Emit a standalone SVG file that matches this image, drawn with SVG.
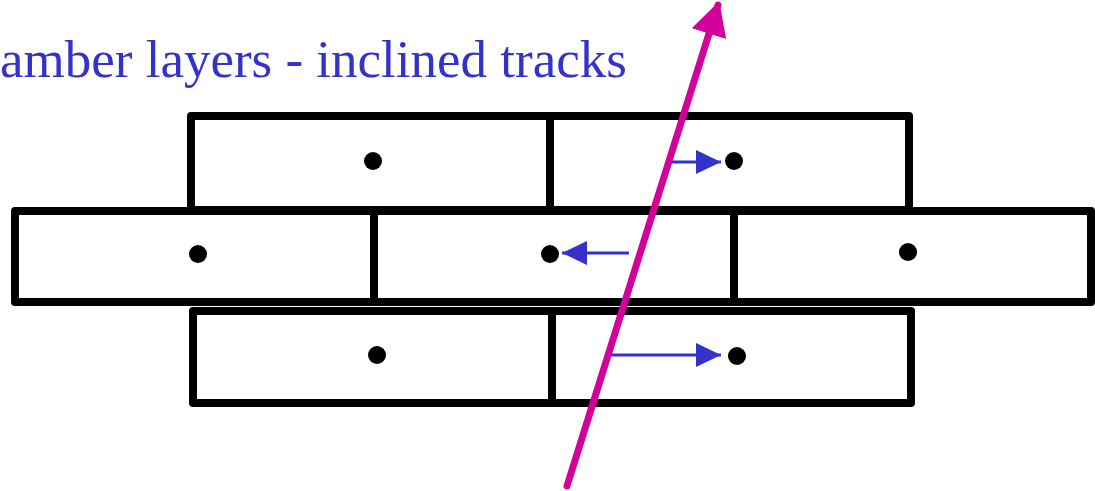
<svg xmlns="http://www.w3.org/2000/svg" width="1095" height="491" viewBox="0 0 1095 491">
  <defs>
    <style>
      .box { fill: #ffffff; stroke: #000000; stroke-width: 8; stroke-linejoin: round; }
      .dot { fill: #000000; }
      .blue { stroke: #3333CC; stroke-width: 3; fill: none; }
      .track { stroke: #D4009A; stroke-width: 7; stroke-linecap: round; fill: none; }
      .title { font-family: "Liberation Serif", "Times New Roman", serif; font-size: 53px; fill: #3333CC; }
    </style>
    <marker id="blueHead" viewBox="0 0 25 24" refX="25" refY="12" markerWidth="25" markerHeight="24" markerUnits="userSpaceOnUse" orient="auto">
      <path d="M0,0 L25,12 L0,24 Z" fill="#3333CC"/>
    </marker>
    <marker id="magHead" viewBox="0 0 34 36" refX="30" refY="18" markerWidth="34" markerHeight="36" markerUnits="userSpaceOnUse" orient="auto">
      <path d="M0,0 L34,18 L0,36 Z" fill="#D4009A"/>
    </marker>
  </defs>
  <rect width="1095" height="491" fill="#ffffff"/>

  <text class="title" x="0" y="77">amber layers - inclined tracks</text>

  <g id="cell-top-left"><rect class="box" x="191" y="116" width="359" height="94"/><circle class="dot" cx="373" cy="161" r="9"/></g>
  <g id="cell-top-right"><rect class="box" x="550" y="116" width="359" height="94"/><circle class="dot" cx="734" cy="161" r="9"/></g>
  <g id="cell-mid-left"><rect class="box" x="15" y="211" width="359" height="91"/><circle class="dot" cx="198" cy="254" r="9"/></g>
  <g id="cell-mid-center"><rect class="box" x="374" y="211" width="360" height="91"/><circle class="dot" cx="550" cy="254" r="9"/></g>
  <g id="cell-mid-right"><rect class="box" x="734" y="211" width="357" height="91"/><circle class="dot" cx="908" cy="252" r="9"/></g>
  <g id="cell-bot-left"><rect class="box" x="193" y="311" width="359" height="92"/><circle class="dot" cx="377" cy="355" r="9"/></g>
  <g id="cell-bot-right"><rect class="box" x="552" y="311" width="359" height="92"/><circle class="dot" cx="737" cy="356" r="9"/></g>

  <g id="connectors">
    <line class="blue" x1="669" y1="162" x2="721" y2="162" marker-end="url(#blueHead)"/>
    <line class="blue" x1="629" y1="253" x2="562" y2="253" marker-end="url(#blueHead)"/>
    <line class="blue" x1="611" y1="355" x2="721" y2="355" marker-end="url(#blueHead)"/>
    <line class="track" x1="567" y1="486" x2="718" y2="5" marker-end="url(#magHead)"/>
  </g>
</svg>
